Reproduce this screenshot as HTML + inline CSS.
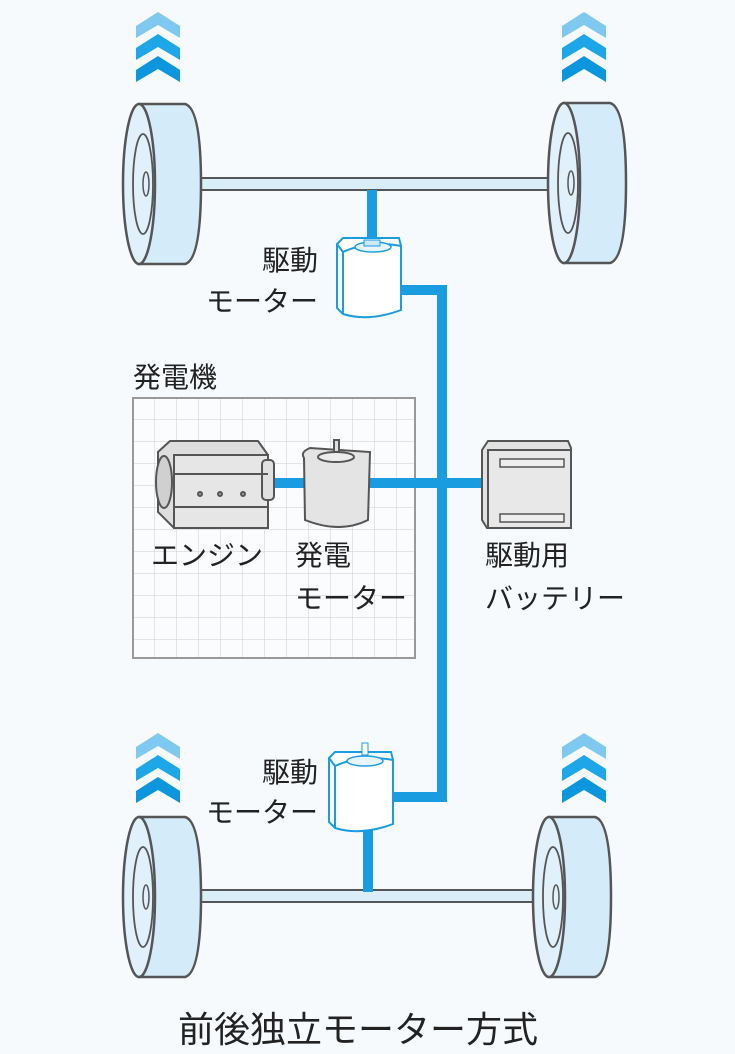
<!DOCTYPE html>
<html><head><meta charset="utf-8"><style>
html,body{margin:0;padding:0;background:#f6fafd;}
svg{display:block}
text{font-family:"Liberation Sans","Noto Sans CJK JP",sans-serif;fill:#222;}
</style></head><body>
<svg width="735" height="1054" viewBox="0 0 735 1054" xmlns="http://www.w3.org/2000/svg">
<defs>
<pattern id="grid" x="133" y="398" width="22" height="22" patternUnits="userSpaceOnUse">
<path d="M22 0V22M0 22H22" stroke="#c9cdd2" stroke-width="1" fill="none"/>
</pattern>
<g id="tire">
<path d="M16 1 L62 1 Q78 5 78 81 Q78 157 62 161 L16 161 Z" fill="#d4ecf9" stroke="#555" stroke-width="2.5"/>
<ellipse cx="16" cy="81" rx="16" ry="80" fill="#e0f1fb" stroke="#555" stroke-width="2.5"/>
<ellipse cx="20" cy="81" rx="10" ry="50" fill="none" stroke="#555" stroke-width="1.8"/>
<ellipse cx="23" cy="81" rx="3" ry="12" fill="none" stroke="#555" stroke-width="1.5"/>
</g>
<g id="arr">
<path d="M0 14 L22 0 L44 14 L44 26 L22 13 L0 26Z" fill="#7fc9f0"/>
<path d="M0 36 L22 22 L44 36 L44 48 L22 35 L0 48Z" fill="#1ea7e8"/>
<path d="M0 58 L22 44 L44 58 L44 70 L22 57 L0 70Z" fill="#0c96dd"/>
</g>
<g id="motor">
<path d="M2 6 L8 0 L64 0 L66 8 L66 72 Q34 84 8 76 L2 70 Z" fill="#fff" stroke="#1a9de0" stroke-width="2"/>
<path d="M8 14 Q34 2 66 8 M8 14 L8 76 M2 6 L8 14" fill="none" stroke="#1a9de0" stroke-width="2"/>
<ellipse cx="38" cy="9" rx="18" ry="5" fill="#e8f5fc" stroke="#1a9de0" stroke-width="1.5"/>
</g>
</defs>

<use href="#arr" x="136" y="12"/>
<use href="#arr" x="562" y="12"/>
<use href="#arr" x="136" y="733"/>
<use href="#arr" x="562" y="733"/>

<rect x="198" y="178" width="358" height="12" fill="#d9eef9" stroke="#555" stroke-width="2"/>
<use href="#tire" x="123" y="103"/>
<use href="#tire" x="548" y="102"/>

<rect x="196" y="890" width="352" height="12" fill="#d9eef9" stroke="#555" stroke-width="2"/>
<use href="#tire" x="123" y="816"/>
<use href="#tire" x="533" y="816"/>

<rect x="133" y="398" width="282" height="260" fill="#fbfcfd"/>
<rect x="133" y="398" width="282" height="260" fill="url(#grid)" stroke="#999" stroke-width="2"/>

<g stroke="#1a9de0" stroke-width="10" fill="none">
<path d="M372 190 V242"/>
<path d="M400 290 H442 V797 H392"/>
<path d="M368 828 V892"/>
<path d="M265 483 H488"/>
</g>

<use href="#motor" x="335" y="238"/>
<rect x="364" y="240" width="16" height="6" fill="#cfe8f6" stroke="#1a9de0"/>
<use href="#motor" x="327" y="752"/>
<rect x="362" y="743" width="6" height="12" fill="#fff" stroke="#1a9de0"/>

<g stroke="#555" stroke-width="2">
<path d="M158 452 L170 441 L258 441 L268 455 L268 528 L174 528 L158 512Z" fill="#dedede"/>
<rect x="174" y="455" width="94" height="73" fill="#e6e6e6"/>
<ellipse cx="164" cy="482" rx="8" ry="26" fill="#d0d0d0"/>
<rect x="262" y="460" width="12" height="40" rx="4" fill="#e0e0e0"/>
<line x1="174" y1="474" x2="268" y2="474"/>
<line x1="174" y1="507" x2="268" y2="507"/>
<circle cx="200" cy="494" r="2" fill="#aaa"/>
<circle cx="220" cy="494" r="2" fill="#aaa"/>
<circle cx="243" cy="494" r="2" fill="#aaa"/>
</g>

<g stroke="#555" stroke-width="2">
<path d="M304 458 Q300 452 310 448 L370 452 L368 520 Q340 534 305 520 Z" fill="#e4e4e4"/>
<ellipse cx="336" cy="457" rx="18" ry="5" fill="#ececec"/>
<rect x="334" y="440" width="5" height="12" fill="#ddd"/>
</g>

<g stroke="#555" stroke-width="2">
<path d="M482 450 L488 441 L568 441 L571 448 L571 528 L487 528 L482 520Z" fill="#e2e2e2"/>
<rect x="488" y="450" width="83" height="78" fill="#e8e8e8"/>
<rect x="500" y="459" width="64" height="8" fill="#eee" stroke-width="1.5"/>
<rect x="500" y="514" width="64" height="8" fill="#eee" stroke-width="1.5"/>
</g>

<g font-size="28">
<text x="262" y="270">駆動</text>
<text x="206" y="311">モーター</text>
<text x="133" y="387">発電機</text>
<text x="151" y="565">エンジン</text>
<text x="295" y="565">発電</text>
<text x="295" y="608">モーター</text>
<text x="485" y="565">駆動用</text>
<text x="485" y="608">バッテリー</text>
<text x="262" y="782">駆動</text>
<text x="206" y="822">モーター</text>
</g>
<text x="178" y="1042" font-size="36">前後独立モーター方式</text>
</svg>
</body></html>
